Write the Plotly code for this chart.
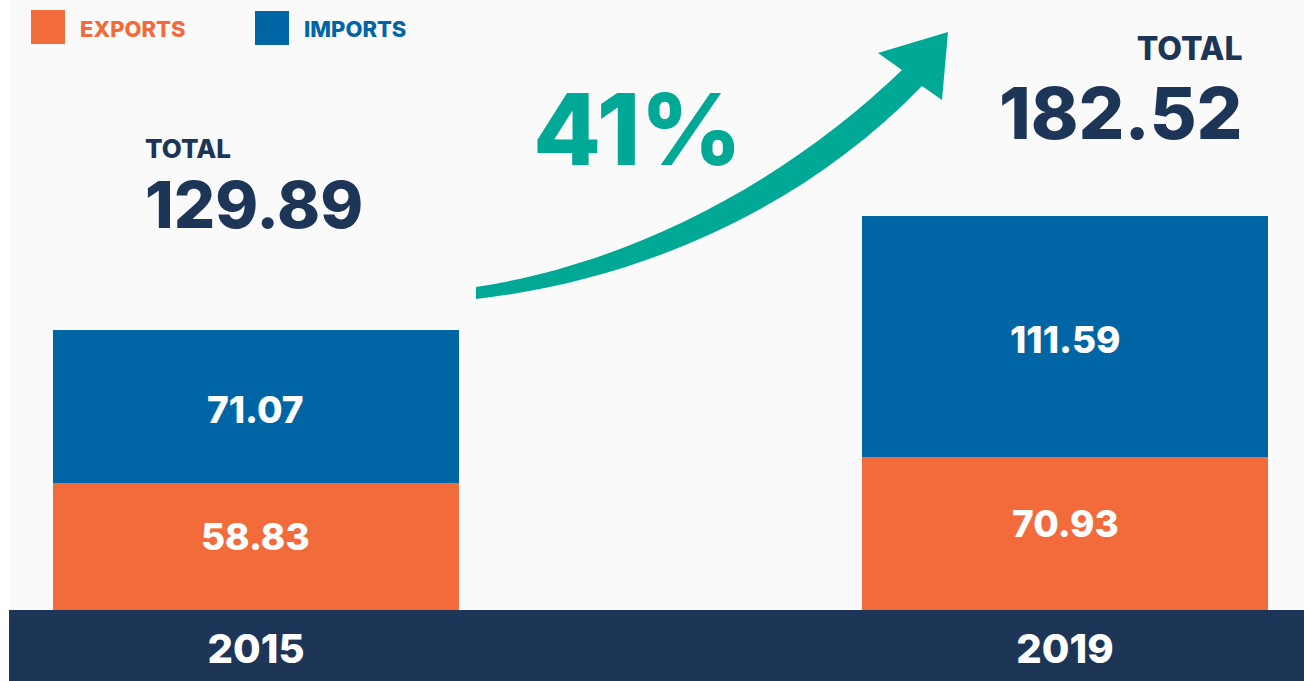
"""Exports / imports totals, 2015 vs 2019."""

import plotly.graph_objects as go

years = ["2015", "2019"]
exports = [58.83, 70.93]
imports = [71.07, 111.59]
totals = ["129.89", "182.52"]
growth_label = "41%"

ORANGE = "#F26B3A"
BLUE = "#0065A4"
NAVY = "#1D3557"
TEAL = "#00A896"
BG = "#FAFAFA"
FONT = "Inter"

W, H = 1304, 681
PL, PB = 9, 71            # plot area: x 9..1304, y 0..610 (px)
PW, PH = W - PL, H - PB


def px(x):
    return (x - PL) / PW


def py(y):
    return (PH - y) / PH


fig = go.Figure()

fig.add_trace(go.Bar(
    x=years, y=exports, name="EXPORTS",
    marker=dict(color=ORANGE, line=dict(width=0)),
    width=0.502, hoverinfo="skip", showlegend=False,
))
fig.add_trace(go.Bar(
    x=years, y=imports, name="IMPORTS",
    marker=dict(color=BLUE, line=dict(width=0)),
    width=0.502, hoverinfo="skip", showlegend=False,
))

annotations = []

# segment labels, centred on each stacked segment (x = category index)
for i, (ex, im) in enumerate(zip(exports, imports)):
    for val, mid, shift in ((ex, ex / 2, 10), (im, ex + im / 2, -3)):
        annotations.append(dict(
            text=f"{val:.2f}", x=i, y=mid, xref="x", yref="y",
            yshift=shift, showarrow=False,
            font=dict(family=FONT, size=37, color="white", weight=800),
        ))

shapes = []
# navy band holding the year labels
shapes.append(dict(type="rect", xref="paper", yref="paper",
                   x0=0, x1=1, y0=py(H), y1=0,
                   fillcolor=NAVY, line=dict(width=0), layer="below"))

# legend swatches
shapes.append(dict(type="rect", xref="paper", yref="paper",
                   x0=px(31), x1=px(65), y0=py(44), y1=py(10),
                   fillcolor=ORANGE, line=dict(width=0)))
shapes.append(dict(type="rect", xref="paper", yref="paper",
                   x0=px(255), x1=px(289), y0=py(45), y1=py(11),
                   fillcolor=BLUE, line=dict(width=0)))


# growth arrow (pixel outline -> paper coords)
def P(x, y):
    return f"{px(x):.5f},{py(y):.5f}"


arrow = (
    f"M {P(476, 287)} C {P(640, 262)} {P(792, 176)} {P(902, 70)} "
    f"L {P(878, 53)} L {P(948, 32)} L {P(942, 100)} L {P(922, 86)} "
    f"C {P(804, 208)} {P(642, 280)} {P(476, 299)} Z"
)
shapes.append(dict(type="path", xref="paper", yref="paper", path=arrow,
                   fillcolor=TEAL, line=dict(width=0)))


def note(text, x, y, size, color, xanchor="left", align="left"):
    annotations.append(dict(
        text=text, xref="paper", yref="paper", x=px(x), y=py(y),
        xanchor=xanchor, yanchor="middle", align=align, showarrow=False,
        font=dict(family=FONT, size=size, color=color, weight=800),
    ))


def total_text(label_size, value_size, value):
    return (f"<span style='font-size:{label_size}px'>TOTAL</span><br>"
            f"<span style='font-size:{value_size}px'>{value}</span>")


note("EXPORTS", 78, 29, 22, ORANGE)
note("IMPORTS", 302, 29, 22, BLUE)
note(total_text(26, 65, totals[0]), 143, 188, 54, NAVY)
note(total_text(32, 72, totals[1]), 1245, 92, 61, NAVY,
     xanchor="right", align="right")
note(growth_label, 531, 129, 99, TEAL)

fig.update_layout(
    width=W, height=H,
    barmode="stack",
    bargap=0,
    margin=dict(l=PL, r=0, t=0, b=PB, pad=0),
    paper_bgcolor="white",
    plot_bgcolor=BG,
    shapes=shapes,
    annotations=annotations,
    xaxis=dict(type="category", range=[-0.3053, 1.2954],
               showgrid=False, zeroline=False, showline=False,
               ticks="", automargin=False, ticklabelstandoff=12,
               tickfont=dict(family=FONT, size=40, color="white", weight=800),
               fixedrange=True),
    yaxis=dict(range=[0, 282.5], showgrid=False, zeroline=False,
               showline=False, showticklabels=False, ticks="",
               automargin=False, fixedrange=True),
)

fig.write_html(
    "out.html",
    config={"displayModeBar": False},
    post_script="document.body.style.margin='0px';",
)
